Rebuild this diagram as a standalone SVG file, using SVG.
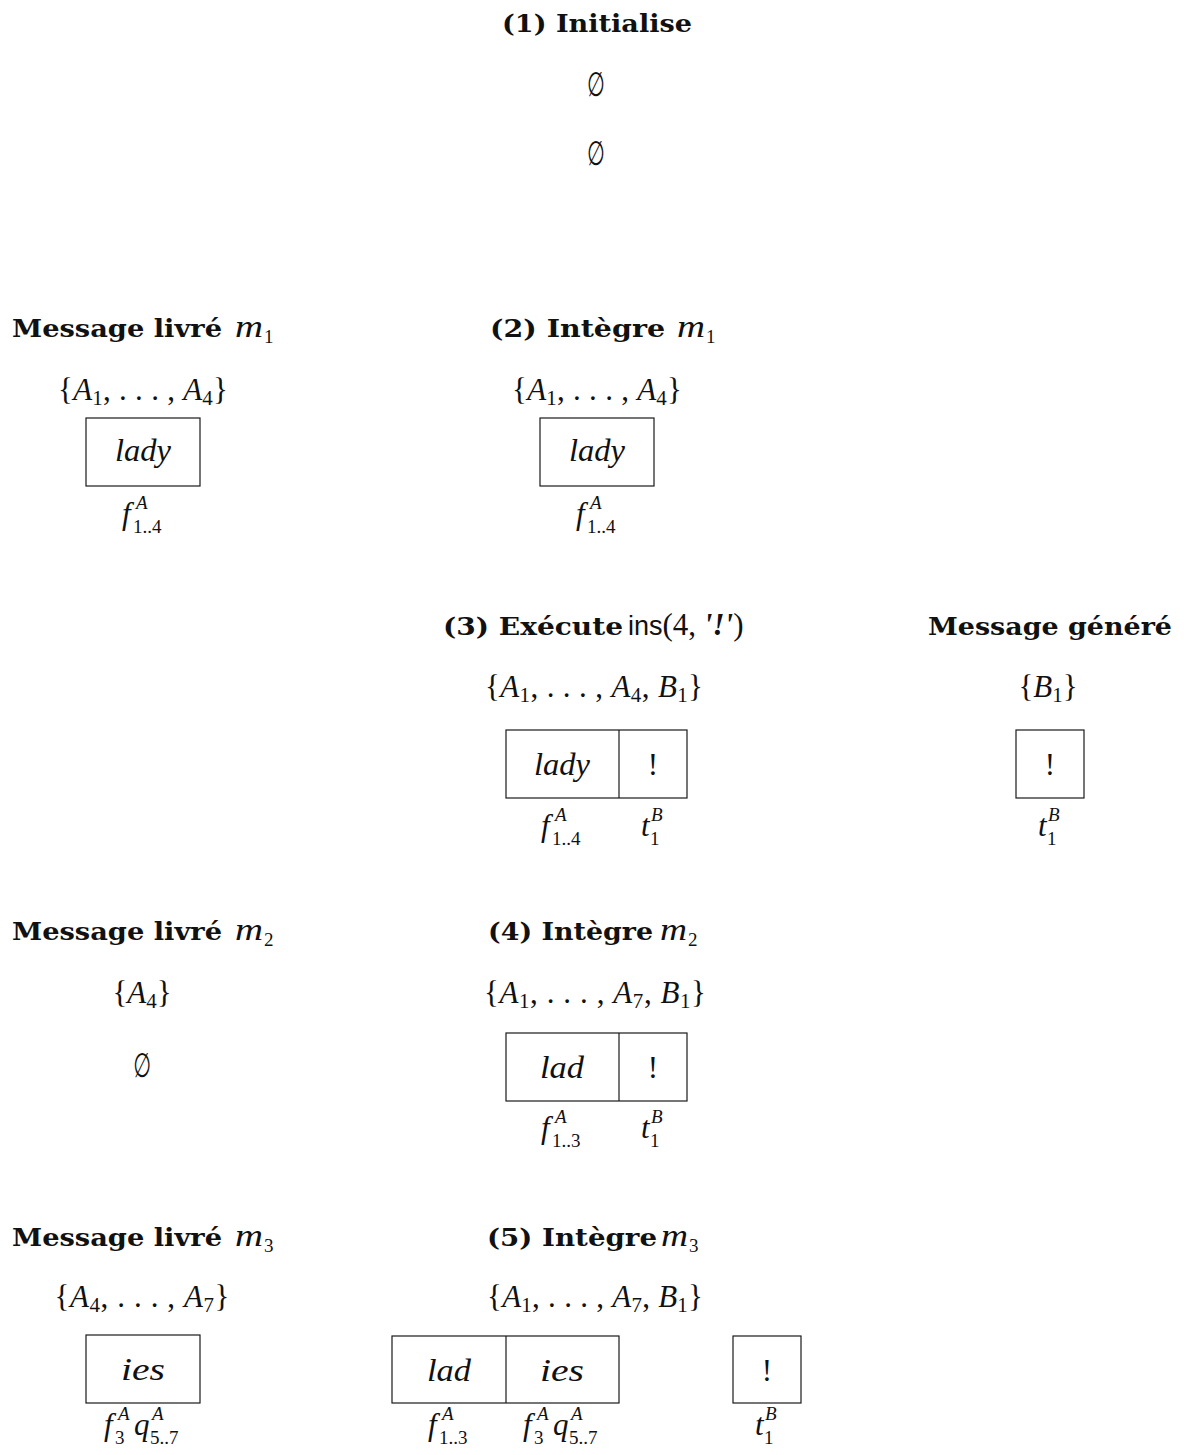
<svg xmlns="http://www.w3.org/2000/svg" width="1184" height="1455" viewBox="0 0 1184 1455">
<style>
.h{font-family:"DejaVu Serif","Liberation Serif",serif;font-weight:bold;font-size:23.5px;fill:#111}
.mi{font-family:"Liberation Serif",serif;font-style:italic;font-size:31px;fill:#111}
.rm{font-family:"Liberation Serif",serif;font-size:31px;fill:#111}
.sp{font-family:"Liberation Serif",serif;font-style:italic;font-size:19px;fill:#111}
.sb{font-family:"Liberation Serif",serif;font-size:19px;fill:#111}
.es{font-family:"DejaVu Sans",sans-serif;font-size:34px;fill:#111}
.box{fill:none;stroke:#1a1a1a;stroke-width:1.2}
.it{font-style:italic}
.s{font-size:21px}
</style>
<rect width="1184" height="1455" fill="#fff"/>

<g id="step1">
<text class="h" x="502" y="32" textLength="190" lengthAdjust="spacingAndGlyphs">(1) Initialise</text>
<text class="es" transform="scale(0.6,1)" x="993" y="96" text-anchor="middle">∅</text>
<text class="es" transform="scale(0.6,1)" x="993" y="165" text-anchor="middle">∅</text>
</g>

<g id="msg1">
<text class="h" x="12" y="337" textLength="210" lengthAdjust="spacingAndGlyphs">Message livré</text>
<text class="mi" x="235" y="337" textLength="28" lengthAdjust="spacingAndGlyphs">m</text>
<text class="sb" x="264" y="343">1</text>
<text class="rm" x="143" y="400" text-anchor="middle" textLength="170">{<tspan class="it">A</tspan><tspan class="s" dy="5">1</tspan><tspan dy="-5">, . . . , </tspan><tspan class="it">A</tspan><tspan class="s" dy="5">4</tspan><tspan dy="-5">}</tspan></text>
<rect class="box" x="86" y="418" width="114" height="68"/>
<text class="mi" x="143" y="461" text-anchor="middle" textLength="56" lengthAdjust="spacingAndGlyphs">lady</text>
<text class="mi" x="122" y="524">f</text><text class="sp" x="136" y="509">A</text><text class="sb" x="133" y="533">1..4</text>
</g>

<g id="step2">
<text class="h" x="490" y="337" textLength="175" lengthAdjust="spacingAndGlyphs">(2) Intègre</text>
<text class="mi" x="677" y="337" textLength="28" lengthAdjust="spacingAndGlyphs">m</text>
<text class="sb" x="706" y="343">1</text>
<text class="rm" x="597" y="400" text-anchor="middle" textLength="170">{<tspan class="it">A</tspan><tspan class="s" dy="5">1</tspan><tspan dy="-5">, . . . , </tspan><tspan class="it">A</tspan><tspan class="s" dy="5">4</tspan><tspan dy="-5">}</tspan></text>
<rect class="box" x="540" y="418" width="114" height="68"/>
<text class="mi" x="597" y="461" text-anchor="middle" textLength="56" lengthAdjust="spacingAndGlyphs">lady</text>
<text class="mi" x="576" y="524">f</text><text class="sp" x="590" y="509">A</text><text class="sb" x="587" y="533">1..4</text>
</g>

<g id="step3">
<text class="h" x="443" y="635" textLength="180" lengthAdjust="spacingAndGlyphs">(3) Exécute</text>
<text class="rm" x="628" y="635"><tspan font-family="Liberation Sans" font-size="27">ins</tspan>(4, <tspan font-weight="bold" font-style="italic">'!'</tspan>)</text>
<text class="rm" x="594" y="697" text-anchor="middle" textLength="218">{<tspan class="it">A</tspan><tspan class="s" dy="5">1</tspan><tspan dy="-5">, . . . , </tspan><tspan class="it">A</tspan><tspan class="s" dy="5">4</tspan><tspan dy="-5">, </tspan><tspan class="it">B</tspan><tspan class="s" dy="5">1</tspan><tspan dy="-5">}</tspan></text>
<rect class="box" x="506" y="730" width="181" height="68"/>
<line class="box" x1="619" y1="730" x2="619" y2="798"/>
<text class="mi" x="562" y="775" text-anchor="middle" textLength="56" lengthAdjust="spacingAndGlyphs">lady</text>
<text class="rm" x="653" y="775" text-anchor="middle">!</text>
<text class="mi" x="541" y="836">f</text><text class="sp" x="555" y="821">A</text><text class="sb" x="552" y="845">1..4</text>
<text class="mi" x="641" y="836">t</text><text class="sp" x="651" y="821">B</text><text class="sb" x="650" y="845">1</text>
</g>

<g id="generated">
<text class="h" x="928" y="635" textLength="244" lengthAdjust="spacingAndGlyphs">Message généré</text>
<text class="rm" x="1048" y="697" text-anchor="middle">{<tspan class="it">B</tspan><tspan class="s" dy="5">1</tspan><tspan dy="-5">}</tspan></text>
<rect class="box" x="1016" y="730" width="68" height="68"/>
<text class="rm" x="1050" y="775" text-anchor="middle">!</text>
<text class="mi" x="1038" y="836">t</text><text class="sp" x="1048" y="821">B</text><text class="sb" x="1047" y="845">1</text>
</g>

<g id="msg2">
<text class="h" x="12" y="940" textLength="210" lengthAdjust="spacingAndGlyphs">Message livré</text>
<text class="mi" x="235" y="940" textLength="28" lengthAdjust="spacingAndGlyphs">m</text>
<text class="sb" x="264" y="946">2</text>
<text class="rm" x="142" y="1003" text-anchor="middle">{<tspan class="it">A</tspan><tspan class="s" dy="5">4</tspan><tspan dy="-5">}</tspan></text>
<text class="es" transform="scale(0.6,1)" x="237" y="1077" text-anchor="middle">∅</text>
</g>

<g id="step4">
<text class="h" x="488" y="940" textLength="165" lengthAdjust="spacingAndGlyphs">(4) Intègre</text>
<text class="mi" x="660" y="940" textLength="27" lengthAdjust="spacingAndGlyphs">m</text>
<text class="sb" x="688" y="946">2</text>
<text class="rm" x="595" y="1003" text-anchor="middle" textLength="222">{<tspan class="it">A</tspan><tspan class="s" dy="5">1</tspan><tspan dy="-5">, . . . , </tspan><tspan class="it">A</tspan><tspan class="s" dy="5">7</tspan><tspan dy="-5">, </tspan><tspan class="it">B</tspan><tspan class="s" dy="5">1</tspan><tspan dy="-5">}</tspan></text>
<rect class="box" x="506" y="1033" width="181" height="68"/>
<line class="box" x1="619" y1="1033" x2="619" y2="1101"/>
<text class="mi" x="562" y="1078" text-anchor="middle" textLength="44" lengthAdjust="spacingAndGlyphs">lad</text>
<text class="rm" x="653" y="1078" text-anchor="middle">!</text>
<text class="mi" x="541" y="1138">f</text><text class="sp" x="555" y="1123">A</text><text class="sb" x="552" y="1147">1..3</text>
<text class="mi" x="641" y="1138">t</text><text class="sp" x="651" y="1123">B</text><text class="sb" x="650" y="1147">1</text>
</g>

<g id="msg3">
<text class="h" x="12" y="1246" textLength="210" lengthAdjust="spacingAndGlyphs">Message livré</text>
<text class="mi" x="235" y="1246" textLength="28" lengthAdjust="spacingAndGlyphs">m</text>
<text class="sb" x="264" y="1252">3</text>
<text class="rm" x="142" y="1307" text-anchor="middle" textLength="175">{<tspan class="it">A</tspan><tspan class="s" dy="5">4</tspan><tspan dy="-5">, . . . , </tspan><tspan class="it">A</tspan><tspan class="s" dy="5">7</tspan><tspan dy="-5">}</tspan></text>
<rect class="box" x="86" y="1335" width="114" height="68"/>
<text class="mi" x="143" y="1380" text-anchor="middle" textLength="44" lengthAdjust="spacingAndGlyphs">ies</text>
<text class="mi" x="104" y="1435">f</text><text class="sp" x="118" y="1420">A</text><text class="sb" x="115" y="1444">3</text>
<text class="mi" x="134" y="1435">q</text><text class="sp" x="152" y="1420">A</text><text class="sb" x="150" y="1444">5..7</text>
</g>

<g id="step5">
<text class="h" x="487" y="1246" textLength="170" lengthAdjust="spacingAndGlyphs">(5) Intègre</text>
<text class="mi" x="661" y="1246" textLength="27" lengthAdjust="spacingAndGlyphs">m</text>
<text class="sb" x="689" y="1252">3</text>
<text class="rm" x="595" y="1307" text-anchor="middle" textLength="216">{<tspan class="it">A</tspan><tspan class="s" dy="5">1</tspan><tspan dy="-5">, . . . , </tspan><tspan class="it">A</tspan><tspan class="s" dy="5">7</tspan><tspan dy="-5">, </tspan><tspan class="it">B</tspan><tspan class="s" dy="5">1</tspan><tspan dy="-5">}</tspan></text>
<rect class="box" x="392" y="1336" width="227" height="67"/>
<line class="box" x1="506" y1="1336" x2="506" y2="1403"/>
<rect class="box" x="733" y="1336" width="68" height="67"/>
<text class="mi" x="449" y="1381" text-anchor="middle" textLength="44" lengthAdjust="spacingAndGlyphs">lad</text>
<text class="mi" x="562" y="1381" text-anchor="middle" textLength="44" lengthAdjust="spacingAndGlyphs">ies</text>
<text class="rm" x="767" y="1381" text-anchor="middle">!</text>
<text class="mi" x="428" y="1435">f</text><text class="sp" x="442" y="1420">A</text><text class="sb" x="439" y="1444">1..3</text>
<text class="mi" x="523" y="1435">f</text><text class="sp" x="537" y="1420">A</text><text class="sb" x="534" y="1444">3</text>
<text class="mi" x="553" y="1435">q</text><text class="sp" x="571" y="1420">A</text><text class="sb" x="569" y="1444">5..7</text>
<text class="mi" x="755" y="1435">t</text><text class="sp" x="765" y="1420">B</text><text class="sb" x="764" y="1444">1</text>
</g>

<g id="connectors"></g>
</svg>
